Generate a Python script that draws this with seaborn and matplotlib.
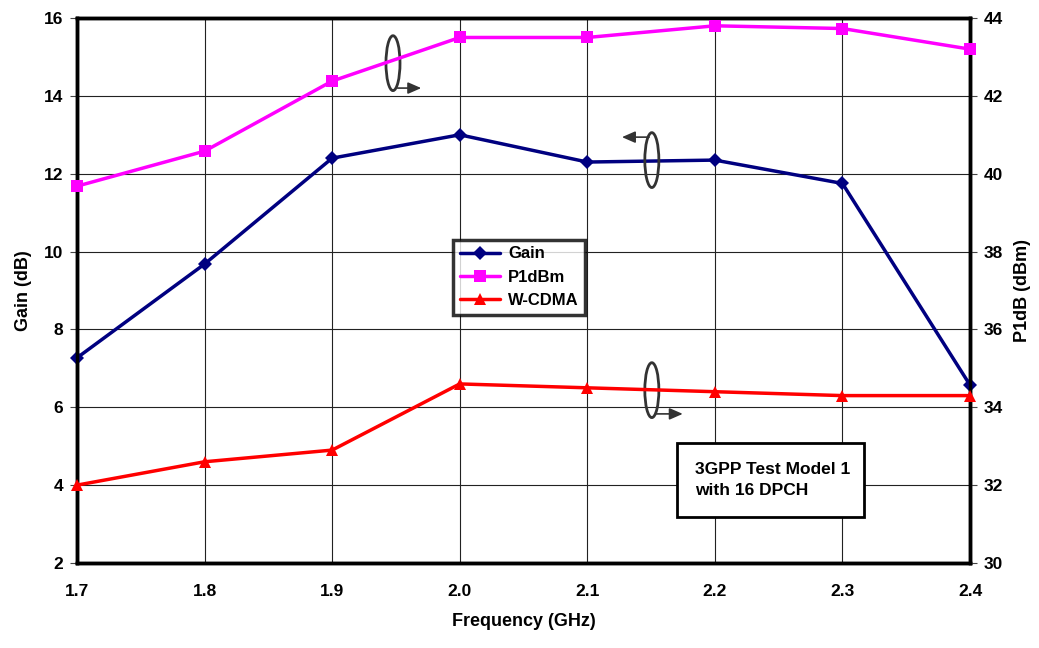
import matplotlib
matplotlib.use("Agg")
import matplotlib.pyplot as plt
import seaborn as sns
import pandas as pd
from matplotlib.patches import Ellipse, Rectangle

freq = [1.7, 1.8, 1.9, 2.0, 2.1, 2.2, 2.3, 2.4]
gain = [7.27, 9.68, 12.4, 13.0, 12.3, 12.35, 11.75, 6.57]
p1db = [39.68, 40.58, 42.38, 43.5, 43.5, 43.8, 43.73, 43.2]
wcdma = [32.0, 32.6, 32.9, 34.6, 34.5, 34.4, 34.3, 34.3]
left_ticks = [2, 4, 6, 8, 10, 12, 14, 16]
right_ticks = [30, 32, 34, 36, 38, 40, 42, 44]
x_ticks = [1.7, 1.8, 1.9, 2.0, 2.1, 2.2, 2.3, 2.4]

sns.set_style("white")
plt.rcParams['font.family'] = ['Liberation Sans', 'DejaVu Sans']
plt.rcParams['font.weight'] = 'bold'
plt.rcParams['text.color'] = 'black'
plt.rcParams['axes.labelcolor'] = 'black'
plt.rcParams['xtick.color'] = 'black'
plt.rcParams['ytick.color'] = 'black'

df = pd.DataFrame({"freq": freq, "gain": gain, "p1db": p1db, "wcdma": wcdma})

fig = plt.figure(figsize=(10.39, 6.48), dpi=100)
ax = fig.add_axes([0.0741, 0.1312, 0.8595, 0.841])
ax2 = ax.twinx()

sns.lineplot(data=df, x="freq", y="gain", ax=ax, color="#000080", marker="D",
             markersize=7, linewidth=2.5, markeredgewidth=0, label="Gain", legend=False,
             clip_on=False, zorder=4)
sns.lineplot(data=df, x="freq", y="p1db", ax=ax2, color="#FF00FF", marker="s",
             markersize=9, linewidth=2.5, markeredgewidth=0, label="P1dBm", legend=False,
             clip_on=False, zorder=4)
sns.lineplot(data=df, x="freq", y="wcdma", ax=ax2, color="#FF0000", marker="^",
             markersize=9, linewidth=2.5, markeredgewidth=0, label="W-CDMA", legend=False,
             clip_on=False, zorder=4)

ax.set_xlim(1.7, 2.4)
ax.set_ylim(2, 16)
ax2.set_ylim(30, 44)
ax.set_xticks(x_ticks)
ax.set_xticklabels([f"{v:.1f}" for v in x_ticks])
ax.set_yticks(left_ticks)
ax2.set_yticks(right_ticks)
ax.grid(True, color="#222222", linewidth=0.8)
ax.set_axisbelow(True)

for a in (ax, ax2):
    for s in a.spines.values():
        s.set_linewidth(2.5)
        s.set_color("black")
    a.tick_params(axis="both", direction="out", length=5, width=0.8, labelsize=12.5, pad=5,
                  color="#444444", labelcolor="black")

ax.tick_params(axis="x", pad=10)
ax.set_xlabel("Frequency (GHz)", fontsize=13, fontweight="bold", labelpad=10)
ax.set_ylabel("Gain (dB)", fontsize=13, fontweight="bold", labelpad=8)
ax2.set_ylabel("P1dB (dBm)", fontsize=13, fontweight="bold", labelpad=8)

# Legend
h1, l1 = ax.get_legend_handles_labels()
h2, l2 = ax2.get_legend_handles_labels()
leg = ax2.legend(h1 + h2, l1 + l2, loc="upper left", bbox_to_anchor=(0.421, 0.593),
                 frameon=True, fancybox=False, fontsize=12, borderpad=0.4,
                 handlelength=2.4, handletextpad=0.5, labelspacing=0.5, borderaxespad=0)
leg.get_frame().set_edgecolor("black")
leg.get_frame().set_linewidth(2.5)
for t in leg.get_texts():
    t.set_fontweight("bold")
    t.set_color("black")

# Annotation ellipses and arrows
ell_color = "#333333"
ellipses = [((1.9477, 14.84), (1.9492, 14.2), (1.972, 14.2)),
            ((2.1506, 12.35), (2.1506, 12.94), (2.125, 12.94)),
            ((2.1506, 6.44), (2.152, 5.83), (2.177, 5.83))]
for center, start, end in ellipses:
    ax.add_patch(Ellipse(center, width=0.011, height=1.41, fill=False,
                         edgecolor=ell_color, linewidth=2, zorder=5))
    ax.annotate("", xy=end, xytext=start,
                arrowprops=dict(arrowstyle="-|>,head_length=0.8,head_width=0.35",
                                color=ell_color, lw=1.2), zorder=5)

# Text box
ax2.add_patch(Rectangle((0.672, 0.084), 0.209, 0.136, transform=ax2.transAxes,
                        facecolor="white", edgecolor="black", linewidth=2, zorder=6))
ax2.text(0.692, 0.152, "3GPP Test Model 1\nwith 16 DPCH", transform=ax2.transAxes,
         fontsize=12.5, fontweight="bold", va="center", ha="left", linespacing=1.5, zorder=7,
         color="black")

fig.savefig("out.png", dpi=100)
